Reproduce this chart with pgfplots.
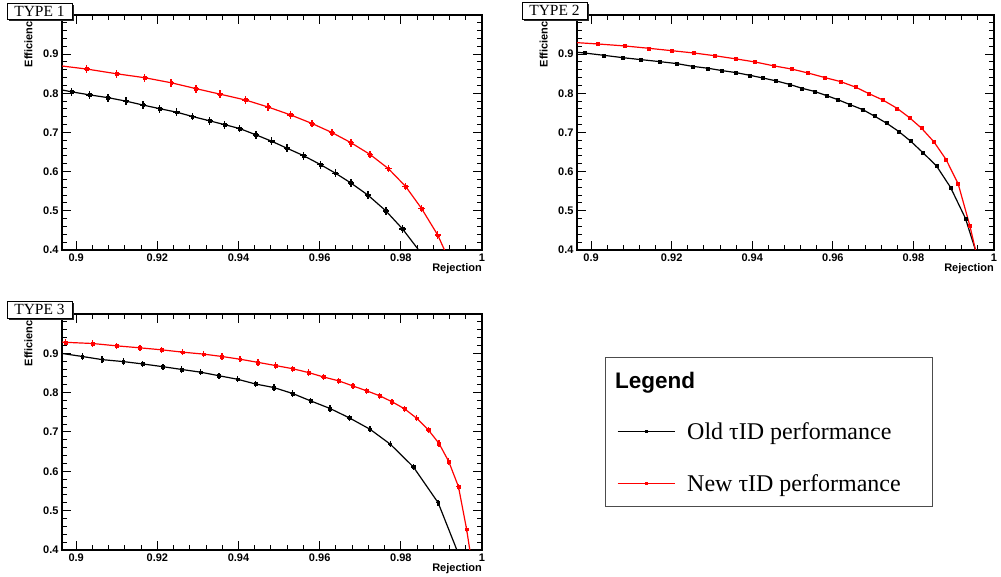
\documentclass[border=0pt]{standalone}
\usepackage{fontspec}
\setmainfont{Liberation Serif}
\setsansfont{Liberation Sans}
\usepackage{pgfplots}
\usepackage{pgfplotstable}
\pgfplotsset{compat=1.18}

\pgfplotstableread{
x y
0.8943 0.813
0.8988 0.804
0.9033 0.796
0.9078 0.789
0.9123 0.780
0.9165 0.770
0.9205 0.761
0.9247 0.752
0.9286 0.741
0.9328 0.730
0.9366 0.720
0.9403 0.710
0.9443 0.694
0.9481 0.678
0.9519 0.660
0.9560 0.641
0.9602 0.618
0.9639 0.596
0.9677 0.571
0.9719 0.540
0.9763 0.500
0.9804 0.454
0.9855 0.385
}\pOneOld
\pgfplotstableread{
x y
0.8955 0.871
0.9026 0.862
0.9099 0.850
0.9168 0.840
0.9234 0.827
0.9295 0.812
0.9354 0.798
0.9417 0.783
0.9473 0.765
0.9528 0.745
0.9581 0.723
0.9630 0.700
0.9677 0.674
0.9724 0.644
0.9769 0.608
0.9812 0.562
0.9851 0.506
0.9891 0.438
0.9925 0.360
}\pOneNew
\pgfplotstableread{
x y
0.8935 0.908
0.8983 0.903
0.9032 0.897
0.9079 0.891
0.9124 0.886
0.9170 0.881
0.9212 0.876
0.9251 0.869
0.9290 0.864
0.9325 0.858
0.9359 0.853
0.9394 0.846
0.9427 0.839
0.9458 0.832
0.9492 0.823
0.9523 0.813
0.9554 0.805
0.9585 0.794
0.9612 0.784
0.9643 0.771
0.9675 0.758
0.9703 0.742
0.9733 0.724
0.9763 0.703
0.9793 0.678
0.9824 0.648
0.9857 0.615
0.9892 0.560
0.9929 0.481
0.9965 0.364
}\pTwoOld
\pgfplotstableread{
x y
0.8940 0.931
0.9017 0.926
0.9083 0.921
0.9143 0.915
0.9199 0.909
0.9255 0.903
0.9307 0.896
0.9359 0.888
0.9407 0.880
0.9454 0.870
0.9498 0.862
0.9538 0.852
0.9581 0.840
0.9619 0.830
0.9656 0.816
0.9690 0.799
0.9724 0.783
0.9759 0.762
0.9790 0.738
0.9820 0.711
0.9851 0.676
0.9881 0.631
0.9911 0.569
0.9940 0.462
0.9965 0.352
}\pTwoNew
\pgfplotstableread{
x y
0.8950 0.902
0.9015 0.892
0.9064 0.884
0.9116 0.879
0.9164 0.873
0.9214 0.866
0.9260 0.859
0.9307 0.852
0.9352 0.843
0.9398 0.834
0.9442 0.822
0.9487 0.813
0.9533 0.798
0.9578 0.779
0.9625 0.760
0.9673 0.736
0.9724 0.707
0.9774 0.669
0.9831 0.611
0.9892 0.520
0.9950 0.369
}\pThreeOld
\pgfplotstableread{
x y
0.8930 0.931
0.8974 0.928
0.9040 0.925
0.9100 0.919
0.9157 0.914
0.9210 0.909
0.9262 0.903
0.9314 0.898
0.9359 0.892
0.9404 0.885
0.9448 0.877
0.9491 0.869
0.9533 0.861
0.9573 0.851
0.9609 0.840
0.9647 0.830
0.9682 0.817
0.9715 0.805
0.9748 0.792
0.9778 0.777
0.9809 0.759
0.9839 0.735
0.9868 0.705
0.9894 0.671
0.9918 0.625
0.9942 0.561
0.9962 0.453
0.9976 0.360
}\pThreeNew

\pgfplotsset{
  rootaxis/.style={
    scale only axis, anchor=south west,
    xmin=0.8965, xmax=1, ymin=0.4, ymax=1,
    xtick={0.9,0.92,0.94,0.96,0.98,1},
    ytick={0.4,0.5,0.6,0.7,0.8,0.9},
    minor x tick num=4,
    minor ytick={0.42,0.44,...,0.99},
    tick align=inside,
    major tick length=9pt, minor tick length=5pt,
    every tick/.style={black, line width=1pt},
    axis line style={line width=1.5pt},
    /pgf/number format/assume math mode=true,
    ticklabel style={font=\sffamily\bfseries\fontsize{11}{13}\selectfont},
    xlabel={Rejection},
    xlabel style={at={(axis description cs:1,0)}, anchor=north east, inner sep=0pt, yshift=-13pt, font=\sffamily\bfseries\fontsize{11}{13}\selectfont},
    ylabel={Efficiency},
    ylabel style={at={(axis description cs:-0.0774,1)}, anchor=east, inner sep=0pt, font=\sffamily\bfseries\fontsize{11}{13}\selectfont},
  },
}
\newcommand{\series}[5]{%
  \addplot[#2, line width=1.2pt, forget plot] table {#1};
  \addplot[#2, only marks, mark=square*, mark size=#5, forget plot,
    restrict x to domain=0.8965:1, restrict y to domain=0.4:1,
    error bars/y dir=both, error bars/y fixed=#3,
    error bars/x dir=both, error bars/x fixed=#4,
    error bars/error mark=none,
    error bars/error bar style={line width=1.4pt}] table {#1};
}

\begin{document}
\begin{tikzpicture}
\path[use as bounding box] (0pt,0pt) rectangle (1001pt,577pt);

\begin{axis}[rootaxis, at={(62pt,327pt)}, width=420pt, height=235pt]
\series{\pOneOld}{black}{0.010}{0.0008}{1.4pt}
\series{\pOneNew}{red}{0.010}{0.0008}{1.4pt}
\end{axis}

\begin{axis}[rootaxis, at={(577pt,327pt)}, width=417pt, height=235pt]
\series{\pTwoOld}{black}{0.003}{0.0002}{1.5pt}
\series{\pTwoNew}{red}{0.003}{0.0002}{1.5pt}
\end{axis}

\begin{axis}[rootaxis, at={(62pt,27pt)}, width=420pt, height=236pt,
  legend image code/.code={\draw[mark repeat=2,mark phase=2,#1] plot coordinates {(0pt,0pt) (28.5pt,0pt) (57pt,0pt)};},
  legend cell align=left,
  legend style={at={(rel axis cs:1.3214,0.5424)}, anchor=north west, draw=none, fill=none,
    font=\fontsize{24}{28}\selectfont, row sep=34pt, column sep=0pt, inner sep=0pt,
    nodes={inner sep=0pt}},
]
\series{\pThreeOld}{black}{0.008}{0.0005}{1.4pt}
\series{\pThreeNew}{red}{0.008}{0.0005}{1.4pt}
\addlegendimage{black, line width=1pt, mark=square*, mark size=1pt}
\addlegendentry{\hspace{12pt}Old τID performance}
\addlegendimage{red, line width=1pt, mark=square*, mark size=1pt}
\addlegendentry{\hspace{12pt}New τID performance}
\end{axis}

% title boxes
\fill[black!85] (9pt,556pt) rectangle (74pt,572pt);
\draw[fill=white, line width=0.8pt] (7pt,558pt) rectangle (72pt,574pt);
\node[font=\fontsize{15.5}{17}\selectfont, inner sep=0pt] at (39.5pt,566pt) {TYPE 1};

\fill[black!85] (524pt,556pt) rectangle (589pt,573pt);
\draw[fill=white, line width=0.8pt] (522pt,558pt) rectangle (587pt,575pt);
\node[font=\fontsize{15.5}{17}\selectfont, inner sep=0pt] at (554.5pt,566.5pt) {TYPE 2};

\fill[black!85] (9pt,257pt) rectangle (74pt,274pt);
\draw[fill=white, line width=0.8pt] (7pt,259pt) rectangle (72pt,276pt);
\node[font=\fontsize{15.5}{17}\selectfont, inner sep=0pt] at (39.5pt,267.5pt) {TYPE 3};

% legend frame and title
\draw[line width=0.9pt, black!70] (605pt,71pt) rectangle (932pt,220pt);
\node[anchor=base west, font=\sffamily\bfseries\fontsize{22.5}{26}\selectfont, inner sep=0pt] at (615pt,188pt) {Legend};
\end{tikzpicture}
\end{document}
